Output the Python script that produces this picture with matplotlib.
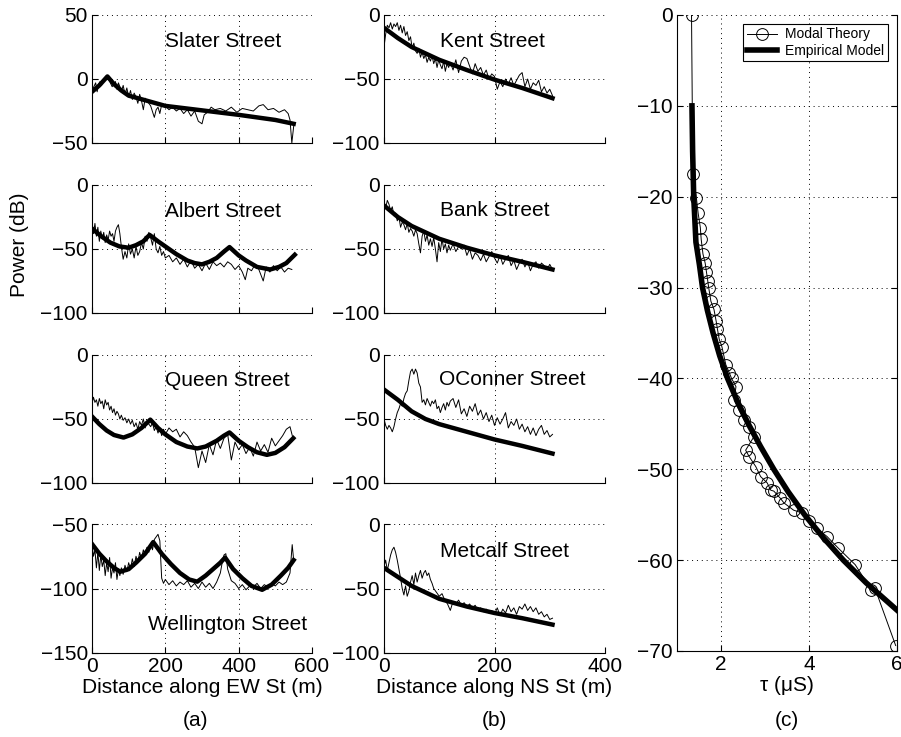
import numpy as np
import matplotlib
matplotlib.use('Agg')
import matplotlib.pyplot as plt

plt.rcParams['font.family'] = ['Liberation Sans', 'DejaVu Sans']
plt.rcParams['font.size'] = 15

'~~~~~~~~~~ DATA: measured (thin) and empirical model (thick), [distance m, power dB] ~~~~~~~~~~'
slater_meas = np.array([
    [0, -9], [5, -6], [10, -3], [14, -10], [18, -4], [22, -2], [26, -5], [30, -1], [35, 0], [40, 2],
    [45, 1], [50, -3], [55, -6], [60, -4], [64, -2], [68, -8], [72, -3], [76, -6], [80, -10], [85, -5],
    [90, -12], [95, -7], [100, -14], [105, -9], [110, -16], [115, -11], [120, -14], [125, -19], [130, -12], [135, -17],
    [140, -24], [145, -15], [150, -17], [160, -21], [170, -30], [175, -24], [180, -22], [185, -27], [190, -20], [200, -21],
    [210, -24], [220, -22], [230, -25], [240, -23], [250, -27], [260, -24], [270, -29], [280, -25], [290, -33], [300, -35],
    [306, -28], [315, -26], [325, -22], [335, -24], [350, -23], [365, -25], [380, -22], [395, -26], [410, -23], [425, -24],
    [440, -25], [455, -21], [467, -20], [480, -24], [495, -23], [510, -26], [525, -24], [535, -27], [540, -32], [545, -50],
    [550, -37]])
slater_model = np.array([
    [0, -10], [20, -5], [42, 2], [60, -4], [80, -9], [100, -13], [150, -17], [200, -21],
    [300, -24.5], [400, -28], [500, -32], [550, -35]])

albert_meas = np.array([
    [0, -33], [4, -38], [8, -30], [12, -40], [16, -33], [20, -44], [24, -36], [28, -42], [32, -37], [36, -45],
    [40, -39], [44, -43], [48, -36], [52, -40], [56, -38], [60, -44], [64, -36], [68, -33], [72, -31], [76, -38],
    [80, -48], [85, -58], [90, -52], [95, -57], [100, -46], [105, -54], [110, -50], [115, -57], [120, -48], [125, -55],
    [130, -52], [135, -45], [140, -50], [145, -40], [150, -44], [155, -37], [160, -41], [165, -47], [170, -38], [175, -50],
    [180, -53], [185, -48], [190, -55], [195, -52], [200, -57], [210, -55], [220, -60], [230, -57], [240, -62], [250, -58],
    [260, -64], [270, -59], [280, -65], [290, -62], [300, -67], [310, -61], [320, -66], [330, -60], [340, -63], [350, -61],
    [360, -64], [370, -60], [380, -62], [390, -66], [400, -63], [410, -68], [418, -74], [425, -65], [435, -67], [445, -62],
    [455, -66], [467, -75], [475, -64], [485, -68], [495, -63], [505, -67], [515, -64], [525, -68], [535, -65], [545, -66]])
albert_model = np.array([
    [0, -34], [25, -40], [50, -45], [75, -48], [100, -49], [120, -47], [140, -44], [157, -39],
    [180, -44], [200, -48], [230, -54], [260, -59], [280, -61], [300, -62], [320, -60], [340, -57],
    [360, -52], [375, -48.5], [400, -55], [420, -59], [450, -64], [486, -66], [510, -64], [530, -61], [553, -54.5]])

queen_meas = np.array([
    [0, -38], [4, -33], [8, -37], [12, -35], [16, -40], [20, -34], [24, -38], [28, -36], [32, -42], [36, -35],
    [40, -39], [44, -37], [48, -43], [52, -40], [56, -45], [60, -42], [64, -47], [68, -44], [72, -46], [76, -50],
    [80, -47], [85, -51], [90, -49], [95, -53], [100, -50], [105, -54], [110, -51], [115, -56], [120, -53], [125, -58],
    [130, -52], [135, -55], [140, -50], [145, -57], [150, -52], [155, -54], [160, -56], [165, -53], [170, -59], [175, -56],
    [180, -61], [185, -57], [190, -63], [195, -58], [200, -62], [210, -57], [220, -60], [230, -58], [240, -64], [250, -60],
    [260, -63], [270, -68], [280, -72], [290, -88], [300, -75], [310, -84], [320, -70], [330, -78], [340, -66], [350, -73],
    [360, -65], [370, -62], [380, -82], [390, -68], [400, -74], [410, -70], [420, -77], [430, -72], [440, -79], [450, -68],
    [460, -75], [470, -70], [480, -76], [490, -65], [500, -71], [510, -67], [520, -63], [530, -58], [540, -56], [548, -65]])
queen_model = np.array([
    [0, -48], [20, -54], [40, -59], [60, -62.5], [86, -64.5], [110, -62], [135, -57], [159, -50.5],
    [180, -57], [200, -62], [230, -68], [260, -71.5], [287, -73], [310, -71.5], [340, -67], [360, -63],
    [375, -60.5], [400, -67], [425, -72], [450, -76], [477, -78], [500, -76.5], [525, -72], [549, -65]])

well_meas = np.array([
    [0, -66], [4, -75], [8, -70], [12, -84], [16, -72], [20, -86], [24, -74], [28, -83], [32, -78], [36, -90],
    [40, -80], [44, -87], [48, -76], [52, -92], [56, -84], [60, -88], [64, -80], [68, -93], [72, -85], [76, -90],
    [80, -84], [85, -89], [90, -82], [95, -87], [100, -80], [105, -85], [110, -77], [115, -83], [120, -75], [125, -80],
    [130, -72], [135, -77], [140, -70], [145, -74], [150, -68], [155, -72], [160, -65], [165, -70], [170, -62], [175, -60],
    [180, -58], [185, -63], [190, -92], [195, -96], [200, -93], [210, -97], [220, -94], [230, -98], [240, -95], [250, -97],
    [260, -94], [270, -99], [280, -96], [290, -100], [300, -95], [310, -99], [320, -96], [330, -100], [340, -95], [350, -88],
    [355, -80], [360, -74], [365, -73], [370, -85], [380, -94], [390, -96], [400, -100], [410, -97], [420, -101], [430, -98],
    [440, -99], [450, -96], [460, -100], [470, -97], [480, -99], [490, -96], [500, -98], [510, -95], [520, -97], [530, -95],
    [540, -88], [546, -66], [550, -78]])
well_model = np.array([
    [0, -65.5], [20, -73], [40, -79], [60, -84], [77, -87], [100, -85], [120, -80], [145, -73], [167, -64],
    [190, -73], [215, -81], [240, -88], [265, -93], [287, -94.7], [310, -90], [330, -85], [350, -80], [363, -76],
    [385, -85], [410, -92], [435, -98], [464, -101], [490, -97], [515, -90], [535, -84], [550, -78]])

kent_meas = np.array([
    [0, -25], [3, -15], [6, -8], [9, -10], [12, -6], [15, -11], [18, -7], [21, -9], [24, -6], [27, -12],
    [30, -8], [33, -14], [36, -9], [39, -16], [42, -13], [45, -20], [48, -17], [51, -26], [54, -22], [57, -28],
    [60, -30], [63, -26], [66, -33], [69, -29], [72, -34], [75, -31], [78, -37], [81, -33], [84, -36], [87, -32],
    [90, -38], [93, -34], [96, -41], [99, -35], [102, -39], [105, -42], [108, -36], [111, -44], [114, -38], [117, -41],
    [120, -37], [125, -43], [130, -35], [135, -45], [140, -36], [145, -33], [150, -34], [155, -40], [160, -46], [165, -38],
    [170, -44], [175, -41], [180, -47], [185, -43], [190, -50], [195, -46], [200, -48], [205, -58], [210, -52], [215, -56],
    [220, -50], [225, -54], [230, -49], [235, -55], [240, -51], [245, -47], [250, -45], [255, -56], [260, -50], [265, -58],
    [270, -53], [275, -55], [280, -51], [285, -60], [290, -56], [295, -61], [300, -58], [305, -63]])
kent_model = np.array([
    [0, -10], [25, -18], [50, -25], [75, -30], [100, -35], [150, -43], [200, -50.5], [250, -57], [305, -65]])

bank_meas = np.array([
    [0, -13], [3, -18], [6, -12], [9, -15], [12, -20], [15, -17], [18, -24], [21, -22], [24, -28], [27, -25],
    [30, -33], [33, -29], [36, -31], [39, -35], [42, -30], [45, -37], [48, -34], [51, -36], [54, -40], [57, -35],
    [60, -38], [63, -46], [66, -53], [69, -40], [72, -36], [75, -44], [78, -39], [81, -47], [84, -42], [87, -48],
    [90, -41], [93, -50], [96, -60], [99, -45], [102, -52], [105, -42], [108, -50], [111, -46], [114, -53], [117, -47],
    [120, -51], [125, -46], [130, -52], [135, -48], [140, -50], [145, -47], [150, -55], [155, -50], [160, -58], [165, -53],
    [170, -55], [175, -59], [180, -54], [185, -60], [190, -56], [195, -52], [200, -57], [205, -61], [210, -55], [215, -62],
    [220, -58], [225, -55], [230, -63], [235, -59], [240, -66], [245, -61], [250, -58], [255, -64], [260, -60], [265, -67],
    [270, -62], [275, -60], [280, -65], [285, -61], [290, -63], [295, -66], [300, -62], [305, -66]])
bank_model = np.array([
    [0, -16], [25, -25], [50, -32], [75, -37], [100, -42], [150, -49], [200, -55], [250, -60], [305, -66]])

oconner_meas = np.array([
    [0, -50], [3, -55], [6, -58], [9, -55], [12, -57], [15, -60], [18, -56], [21, -50], [24, -45], [27, -42],
    [30, -38], [33, -40], [36, -34], [39, -30], [42, -28], [45, -20], [48, -13], [51, -11], [54, -15], [57, -11],
    [60, -14], [63, -22], [66, -25], [69, -37], [72, -35], [75, -39], [78, -34], [81, -37], [84, -40], [87, -36],
    [90, -38], [93, -35], [96, -42], [99, -40], [102, -45], [105, -41], [108, -38], [111, -43], [114, -37], [117, -40],
    [120, -36], [125, -34], [130, -41], [135, -35], [140, -46], [145, -42], [150, -48], [155, -40], [160, -44], [165, -38],
    [170, -47], [175, -43], [180, -50], [185, -45], [190, -52], [195, -47], [200, -55], [205, -49], [210, -54], [215, -50],
    [220, -45], [225, -57], [230, -52], [235, -55], [240, -50], [245, -58], [250, -54], [255, -60], [260, -56], [265, -62],
    [270, -57], [275, -63], [280, -58], [285, -55], [290, -62], [295, -59], [300, -64], [305, -62]])
oconner_model = np.array([
    [0, -27], [25, -35], [50, -44], [75, -50], [100, -54], [150, -60], [200, -66], [250, -71], [305, -77]])

metcalf_meas = np.array([
    [0, -33], [3, -28], [6, -36], [9, -30], [12, -24], [15, -20], [18, -18], [21, -22], [24, -28], [27, -35],
    [30, -42], [33, -50], [36, -55], [39, -48], [42, -56], [45, -52], [48, -45], [51, -40], [54, -47], [57, -38],
    [60, -45], [63, -40], [66, -36], [69, -42], [72, -38], [75, -36], [78, -40], [81, -38], [84, -43], [87, -46],
    [90, -50], [95, -53], [100, -56], [105, -54], [110, -59], [115, -62], [120, -67], [125, -60], [130, -62], [135, -59],
    [140, -63], [145, -61], [150, -64], [155, -62], [160, -65], [165, -63], [170, -67], [175, -65], [180, -68], [185, -66],
    [190, -69], [195, -67], [200, -70], [205, -65], [210, -71], [215, -66], [220, -69], [225, -63], [230, -68], [235, -65],
    [240, -70], [245, -64], [250, -66], [255, -62], [260, -67], [265, -64], [270, -68], [275, -65], [280, -70], [285, -68],
    [290, -72], [295, -70], [300, -74], [305, -73]])
metcalf_model = np.array([
    [0, -34], [25, -41], [50, -48], [75, -53], [100, -58], [150, -64], [200, -69], [250, -73], [305, -78]])

'~~~~~~~~~~ DATA: panel (c), [tau uS, power dB] ~~~~~~~~~~'
modal_theory = np.array([
    [1.33, 0], [1.36, -17.5], [1.44, -20.1], [1.48, -21.8], [1.53, -23.4], [1.55, -24.7], [1.59, -26.3],
    [1.64, -27.3], [1.67, -28.3], [1.70, -29.3], [1.72, -30.0], [1.77, -31.5], [1.84, -32.4], [1.89, -33.7],
    [1.92, -34.6], [1.96, -35.7], [2.02, -36.5], [2.11, -38.5], [2.19, -39.4], [2.24, -40.0], [2.34, -40.9],
    [2.30, -42.4], [2.41, -43.5], [2.53, -44.6], [2.64, -45.3], [2.75, -46.4], [2.56, -47.9], [2.64, -48.6],
    [2.79, -49.7], [2.90, -50.8], [3.05, -51.5], [3.13, -52.3], [3.20, -52.4], [3.35, -53.2], [3.43, -53.7],
    [3.65, -54.5], [3.84, -54.8], [3.99, -55.7], [4.18, -56.5], [4.41, -57.4], [4.67, -58.7], [5.05, -60.5],
    [5.42, -63.3], [5.50, -63.1], [5.97, -69.4]])
empirical = np.array([
    [1.34, -10], [1.355, -15], [1.38, -20], [1.43, -25], [1.51, -27.5], [1.58, -30], [1.69, -32.5],
    [1.82, -35], [1.97, -37.5], [2.15, -40], [2.37, -42.5], [2.62, -45], [2.9, -47.5], [3.2, -50],
    [3.53, -52.5], [3.9, -55], [4.32, -57.5], [4.78, -60], [5.3, -62.5], [6.0, -65.5]])

ew_panels = [
    ('Slater Street', slater_meas, slater_model, (-50, 50), [-50, 0, 50], (200, 29)),
    ('Albert Street', albert_meas, albert_model, (-100, 0), [-100, -50, 0], (200, -21)),
    ('Queen Street', queen_meas, queen_model, (-100, 0), [-100, -50, 0], (200, -20)),
    ('Wellington Street', well_meas, well_model, (-150, -50), [-150, -100, -50], (152, -128)),
]
ns_panels = [
    ('Kent Street', kent_meas, kent_model, (101, -21)),
    ('Bank Street', bank_meas, bank_model, (101, -20)),
    ('OConner Street', oconner_meas, oconner_model, (100, -19)),
    ('Metcalf Street', metcalf_meas, metcalf_model, (101, -21)),
]

'------------------ LAYOUT ------------------'
W, H = 901, 737
fig = plt.figure(figsize=(W / 100, H / 100), dpi=100)


def px_axes(x0, y0, x1, y1):
    return fig.add_axes([x0 / W, 1 - y1 / H, (x1 - x0) / W, (y1 - y0) / H])


def style(ax, right_spine=False):
    ax.grid(True, linestyle=(0, (1, 4)), color='k', linewidth=0.7)
    ax.set_axisbelow(True)
    ax.spines['top'].set_visible(False)
    ax.spines['right'].set_visible(right_spine)
    ax.tick_params(direction='in', length=4, width=0.8, right=right_spine, labelsize=15, pad=3)


rows = [(15, 143), (185, 313), (355, 483), (524, 653)]

for i, (name, meas, model, ylim, yt, pos) in enumerate(ew_panels):
    ax = px_axes(92, rows[i][0], 312, rows[i][1])
    ax.plot(meas[:, 0], meas[:, 1], color='k', linewidth=0.7)
    ax.plot(model[:, 0], model[:, 1], color='k', linewidth=3.2)
    ax.set_xlim(0, 600)
    ax.set_ylim(*ylim)
    ax.set_yticks(yt)
    ax.set_xticks([0, 200, 400, 600])
    ax.text(pos[0], pos[1], name, ha='left', va='center', fontsize=15)
    style(ax)
    if i < 3:
        ax.set_xticklabels([])
    else:
        ax.set_xlabel('Distance along EW St (m)', fontsize=15, labelpad=1)

for i, (name, meas, model, pos) in enumerate(ns_panels):
    ax = px_axes(384, rows[i][0], 605, rows[i][1])
    ax.plot(meas[:, 0], meas[:, 1], color='k', linewidth=0.7)
    ax.plot(model[:, 0], model[:, 1], color='k', linewidth=3.2)
    ax.set_xlim(0, 400)
    ax.set_ylim(-100, 0)
    ax.set_yticks([-100, -50, 0])
    ax.set_xticks([0, 200, 400])
    ax.text(pos[0], pos[1], name, ha='left', va='center', fontsize=15)
    style(ax)
    if i < 3:
        ax.set_xticklabels([])
    else:
        ax.set_xlabel('Distance along NS St (m)', fontsize=15, labelpad=1)

axc = px_axes(677, 15, 897, 651)
axc.plot(modal_theory[:, 0], modal_theory[:, 1], color='k', linewidth=0.7, marker='o',
         markersize=8.5, markerfacecolor='none', markeredgewidth=0.7, label='Modal Theory')
axc.plot(empirical[:, 0], empirical[:, 1], color='k', linewidth=4, label='Empirical Model')
axc.set_xlim(1, 6)
axc.set_ylim(-70, 0)
axc.set_xticks([2, 4, 6])
axc.set_yticks(np.arange(-70, 1, 10))
axc.set_xlabel('τ (μS)', fontsize=15, labelpad=1)
style(axc, right_spine=True)
leg = axc.legend(loc='upper right', bbox_to_anchor=(888 / W, 1 - 24 / H), bbox_transform=fig.transFigure,
                 fontsize=10, fancybox=False, edgecolor='k', framealpha=1, borderaxespad=0,
                 borderpad=0.25, labelspacing=0.15, handlelength=2.2, handletextpad=0.6)
leg.get_frame().set_linewidth(0.8)

fig.text(20 / W, 1 - 245 / H, 'Power (dB)', rotation=90, ha='center', va='center', fontsize=15)
fig.text(196 / W, 1 - 721 / H, '(a)', ha='center', va='center', fontsize=15)
fig.text(494 / W, 1 - 721 / H, '(b)', ha='center', va='center', fontsize=15)
fig.text(787 / W, 1 - 721 / H, '(c)', ha='center', va='center', fontsize=15)

fig.savefig('out.png', dpi=100)
